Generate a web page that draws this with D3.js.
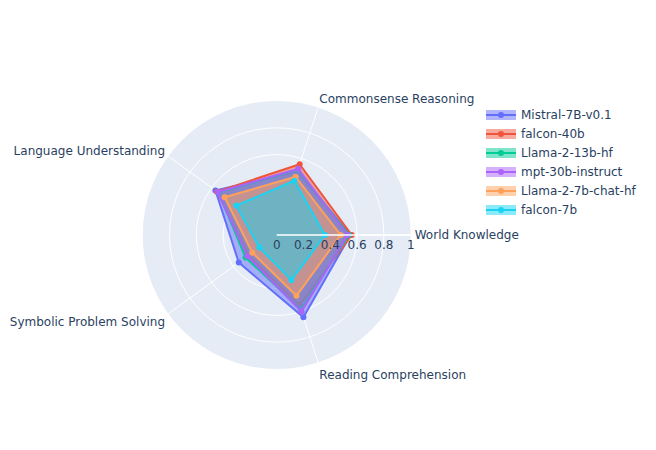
<!DOCTYPE html>
<html><head><meta charset="utf-8">
<script src="https://cdn.jsdelivr.net/npm/d3@7"></script>
<style>body{margin:0;background:#fff;} text{font-family:"DejaVu Sans",Verdana,sans-serif;}</style>
</head><body><svg id="c" width="656" height="450"></svg>
<script>
const categories = ["World Knowledge","Commonsense Reasoning","Language Understanding","Symbolic Problem Solving","Reading Comprehension"];
const models = ["Mistral-7B-v0.1","falcon-40b","Llama-2-13b-hf","mpt-30b-instruct","Llama-2-7b-chat-hf","falcon-7b"];
const colors = ["#636efa","#EF553B","#00cc96","#ab63fa","#FFA15A","#19d3f3"];
const mistral = [0.55, 0.50, 0.565, 0.35, 0.645];
const falcon40 = [0.56, 0.555, 0.55, 0.26, 0.55];
const llama13 = [0.54, 0.51, 0.537, 0.287, 0.58];
const mpt30 = [0.53, 0.52, 0.545, 0.27, 0.60];
const llama7chat = [0.478, 0.457, 0.48, 0.225, 0.477];
const falcon7 = [0.36, 0.426, 0.373, 0.16, 0.354];
const series = [mistral, falcon40, llama13, mpt30, llama7chat, falcon7];
const radialTicks = [0, 0.2, 0.4, 0.6, 0.8, 1];
const radialTickLabels = ["0","0.2","0.4","0.6","0.8","1"];

const svg = d3.select("#c");
const cx = 276.7, cy = 235, R = 134;
const r = d3.scaleLinear().domain([0,1]).range([0,R]);
// categories evenly spaced counterclockwise from east
const angleOf = c => categories.indexOf(c) * 360 / categories.length * Math.PI/180;
const px = (c,v) => cx + r(v)*Math.cos(angleOf(c));
const py = (c,v) => cy - r(v)*Math.sin(angleOf(c));
const txt = "#2a3f5f";

const g = svg.append("g");
g.append("circle").attr("cx",cx).attr("cy",cy).attr("r",R).attr("fill","#E5ECF6");
radialTicks.slice(1,-1).forEach(t=>{
  g.append("circle").attr("cx",cx).attr("cy",cy).attr("r",r(t)).attr("fill","none").attr("stroke","#fff").attr("stroke-width",1);
});
categories.forEach(c=>{
  g.append("line").attr("x1",cx).attr("y1",cy).attr("x2",px(c,1)).attr("y2",py(c,1)).attr("stroke","#fff").attr("stroke-width",1);
});

const line = d3.line().x(d=>d[0]).y(d=>d[1]).curve(d3.curveLinearClosed);
series.forEach((vals,i)=>{
  const pts = categories.map((c,j)=>[px(c,vals[j]), py(c,vals[j])]);
  const tg = g.append("g");
  tg.append("path").attr("d",line(pts)).attr("fill",colors[i]).attr("fill-opacity",0.5).attr("stroke","none");
  tg.append("path").attr("d",line(pts)).attr("fill","none").attr("stroke",colors[i]).attr("stroke-width",2).attr("stroke-linejoin","round");
  tg.selectAll("circle").data(pts).join("circle").attr("cx",d=>d[0]).attr("cy",d=>d[1]).attr("r",3).attr("fill",colors[i]);
});

// radial axis line and tick labels
g.append("line").attr("x1",cx).attr("y1",cy).attr("x2",cx+R).attr("y2",cy).attr("stroke","#fff").attr("stroke-width",1.5);
radialTicks.forEach((t,i)=>{
  g.append("text").attr("x",cx+r(t)).attr("y",cy+14).attr("text-anchor","middle").attr("font-size",12).attr("fill",txt).text(radialTickLabels[i]);
});

// angular labels
categories.forEach(c=>{
  const a = angleOf(c);
  const cs = Math.cos(a), sn = Math.sin(a);
  const x = cx + (R+4)*cs;
  const y = cy - (R+4)*sn - sn*7 + 2*Math.abs(sn);
  const anchor = Math.abs(cs) < 0.1 ? "middle" : (cs > 0 ? "start" : "end");
  g.append("text").attr("x",x).attr("y",y).attr("dy","0.35em").attr("text-anchor",anchor).attr("font-size",12).attr("fill",txt).text(c);
});

// legend
const lg = svg.append("g").attr("transform","translate(486,115)");
models.forEach((m,i)=>{
  const it = lg.append("g").attr("transform",`translate(0,${i*19})`);
  it.append("rect").attr("x",0).attr("y",-5).attr("width",30).attr("height",10).attr("fill",colors[i]).attr("fill-opacity",0.5);
  it.append("line").attr("x1",0).attr("x2",30).attr("y1",0).attr("y2",0).attr("stroke",colors[i]).attr("stroke-width",2);
  it.append("circle").attr("cx",15).attr("cy",0).attr("r",3).attr("fill",colors[i]);
  it.append("text").attr("x",35).attr("y",0).attr("dy","0.35em").attr("font-size",12).attr("fill",txt).text(m);
});
</script></body></html>
